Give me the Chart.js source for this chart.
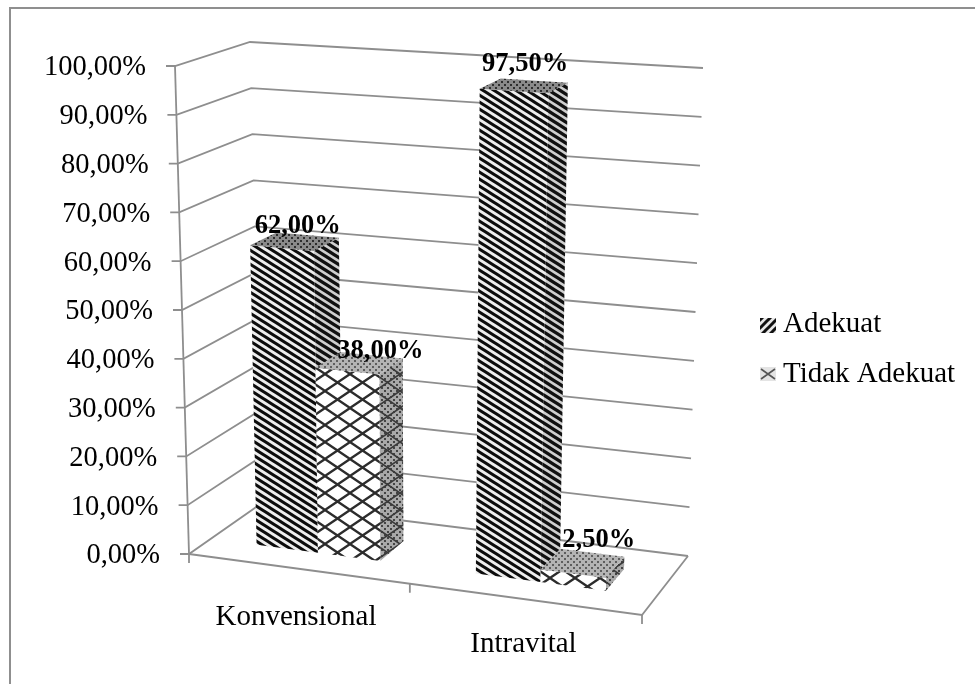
<!DOCTYPE html>
<html><head><meta charset="utf-8">
<style>html,body{margin:0;padding:0;background:#fff}canvas{display:block}</style>
<script src="https://cdn.jsdelivr.net/npm/chart.js@4"></script>
</head><body><canvas id="c" width="975" height="684"></canvas>
<script>
const categories = ['Konvensional', 'Intravital'];
const adekuat = [62.0, 97.5];
const tidakAdekuat = [38.0, 2.5];
const valueLabelsAdekuat = ['62,00%', '97,50%'];
const valueLabelsTidak = ['38,00%', '2,50%'];
const yTickLabels = ['0,00%','10,00%','20,00%','30,00%','40,00%','50,00%','60,00%','70,00%','80,00%','90,00%','100,00%'];
const seriesNames = ['Adekuat', 'Tidak Adekuat'];

const FONT = '"Liberation Serif","Times New Roman",serif';
// 3D box corners of the plot on screen: [u,d,v] -> pixel
const C = {
  a0:[189,554], b0:[642,615], c0:[262,503], d0:[688,556],
  a1:[175,66],  b1:[658,97], c1:[250,42],  d1:[703,68]
};
function P(u,d,v){
  const w=u-0.05*u*(1-u), r=[];
  for(const k of [0,1]){
    const l0=(1-w)*(1-d), l1=w*(1-d), l2=(1-w)*d, l3=w*d;
    r[k]=(1-v)*(l0*C.a0[k]+l1*C.b0[k]+l2*C.c0[k]+l3*C.d0[k])+v*(l0*C.a1[k]+l1*C.b1[k]+l2*C.c1[k]+l3*C.d1[k]);
  }
  return r;
}
function tile(w,h,fn){const c=document.createElement('canvas');c.width=w;c.height=h;const x=c.getContext('2d');fn(x,w,h);return x.createPattern(c,'repeat');}
function stripes(w,h,lw,bg,fg){return tile(w,h,(x)=>{x.fillStyle=bg;x.fillRect(0,0,w,h);x.strokeStyle=fg;x.lineWidth=lw;
  for(let k=-3;k<=3;k++){x.beginPath();x.moveTo(-w,-h+k*h);x.lineTo(2*w,2*h+k*h);x.stroke();}});}
function cross(w,h,lw,bg,fg){return tile(w,h,(x)=>{x.fillStyle=bg;x.fillRect(0,0,w,h);x.strokeStyle=fg;x.lineWidth=lw;
  x.beginPath();x.moveTo(0,0);x.lineTo(w,h);x.moveTo(w,0);x.lineTo(0,h);
  x.moveTo(-w/2,h/2);x.lineTo(0,h);x.moveTo(w/2,-h/2);x.lineTo(w,0);x.stroke();});}
function stipple(bg,fg){return tile(6,6,(x)=>{x.fillStyle=bg;x.fillRect(0,0,6,6);x.fillStyle=fg;x.fillRect(0,0,2,2);x.fillRect(3,3,2,2);});}
const pats={
  darkFront:stripes(11,7,3.1,'#eeeeee','#0c0c0c'),
  darkSide:stripes(11,7,3.2,'#cfcfcf','#101010'),
  darkTop:stipple('#8a8a8a','#2e2e2e'),
  crossFront:cross(25,17,2.3,'#ffffff','#2c2c2c'),
  crossSide:stipple('#a8a8a8','#444'),
  crossOver:cross(25,17,1.6,'rgba(0,0,0,0)','#3a3a3a'),
  crossTop:stipple('#b4b4b4','#5e5e5e')
};
function poly(ctx,pts,fill){ctx.beginPath();pts.forEach((p,i)=>i?ctx.lineTo(p[0],p[1]):ctx.moveTo(p[0],p[1]));ctx.closePath();ctx.fillStyle=fill;ctx.fill();}
const DEPTH0=0.30, DEPTH1=0.67;
const labelNudge=[[[3,-9],[1,-15]],[[21,-5],[16,-16]]];

const view3d={
  id:'view3d',
  beforeDraw(chart){
    const ctx=chart.ctx, y=chart.scales.y, x=chart.scales.x, ca=chart.chartArea;
    ctx.save();ctx.fillStyle='#fff';ctx.fillRect(0,0,975,684);
    ctx.strokeStyle='#8f8f8f';ctx.lineWidth=2;ctx.beginPath();ctx.moveTo(975,8);ctx.lineTo(10,8);ctx.lineTo(10,684);ctx.stroke();
    // walls and floor
    ctx.strokeStyle='#8e8e8e';ctx.lineWidth=1.8;
    y.ticks.forEach(t=>{
      const v=t.value/100;
      const a=P(0,0,v),b=P(0,1,v),c=P(1,1,v);
      ctx.beginPath();ctx.moveTo(a[0]-9,a[1]);ctx.lineTo(a[0],a[1]);ctx.lineTo(b[0],b[1]);ctx.lineTo(c[0],c[1]);ctx.stroke();
    });
    const a=P(0,0,0),t=P(0,0,1),f=P(1,0,0),r=P(1,1,0);
    ctx.beginPath();ctx.moveTo(t[0],t[1]);ctx.lineTo(a[0],a[1]);ctx.stroke();
    ctx.beginPath();ctx.moveTo(a[0],a[1]);ctx.lineTo(f[0],f[1]);ctx.lineTo(r[0],r[1]);ctx.stroke();
    [0,0.5,1].forEach(u=>{const p=P(u,0,0);ctx.beginPath();ctx.moveTo(p[0],p[1]);ctx.lineTo(p[0],p[1]+9);ctx.stroke();});
    ctx.restore();
    // follow the slanted axis with the library's own tick labels
    y.getLabelItems(ca).forEach((it,i)=>{
      const v=y.ticks[i].value/100,p=P(0,0,v);
      it.options.translation=[p[0]-29,p[1]+2];
    });
    x.getLabelItems(ca).forEach((it,i)=>{
      const u=(x.getPixelForTick(i)-ca.left)/ca.width,p=P(u,0,0);
      it.textOffset=0;it.options.textBaseline='alphabetic';it.options.textAlign='center';
      it.options.translation=[p[0]+(i?-1:-2),p[1]+(i?53:56)];
    });
  },
  afterLayout(chart){
    const l=chart.legend;
    l.left=740.5;l.top=289;l.right=l.left+l.width;l.bottom=l.top+l.height;
  },
  beforeDatasetsDraw(chart){
    const ctx=chart.ctx,ca=chart.chartArea;
    ctx.save();
    const dark=chart.getDatasetMeta(0).data,light=chart.getDatasetMeta(1).data;
    const labels=[];
    categories.forEach((_,j)=>{
      [[dark[j],'dark',valueLabelsAdekuat[j],labelNudge[0][j]],[light[j],'cross',valueLabelsTidak[j],labelNudge[1][j]]].forEach(([el,kind,txt,n])=>{
        const u0=(el.x-el.width/2-ca.left)/ca.width,u1=(el.x+el.width/2-ca.left)/ca.width;
        const v=(el.base-el.y)/ca.height;
        const f=[P(u0,DEPTH0,0),P(u1,DEPTH0,0),P(u1,DEPTH0,v),P(u0,DEPTH0,v)];
        const s=[P(u1,DEPTH0,0),P(u1,DEPTH1,0),P(u1,DEPTH1,v),P(u1,DEPTH0,v)];
        const t=[P(u0,DEPTH0,v),P(u1,DEPTH0,v),P(u1,DEPTH1,v),P(u0,DEPTH1,v)];
        poly(ctx,s,pats[kind+'Side']);
        if(kind==='cross')poly(ctx,s,pats.crossOver);
        poly(ctx,f,pats[kind+'Front']);
        poly(ctx,t,pats[kind+'Top']);
        const c=P((u0+u1)/2,(DEPTH0+DEPTH1)/2,v);
        labels.push([txt,c[0]+n[0],c[1]+n[1]]);
      });
    });
    ctx.fillStyle='#000';ctx.font='bold 26.5px '+FONT;ctx.textAlign='center';ctx.textBaseline='alphabetic';
    labels.forEach(l=>ctx.fillText(l[0],l[1],l[2]));
    ctx.restore();
    return false;
  },
  afterDraw(chart){
    const ctx=chart.ctx;ctx.save();
    ctx.fillStyle=stripesLegend;ctx.fillRect(760,318,16,15);
    const x0=760,y0=367,w=16,h=14;
    ctx.fillStyle='#e4e4e4';ctx.fillRect(x0,y0,w,h);
    ctx.strokeStyle='#555';ctx.lineWidth=1.6;ctx.beginPath();
    ctx.moveTo(x0+1,y0+2);ctx.lineTo(x0+w-1,y0+h-2);ctx.moveTo(x0+w-1,y0+2);ctx.lineTo(x0+1,y0+h-2);ctx.stroke();
    ctx.restore();
  }
};
const stripesLegend=tile(8,8,(x)=>{x.fillStyle='#e8e8e8';x.fillRect(0,0,8,8);x.strokeStyle='#111';x.lineWidth=3;
  for(let k=-1;k<=1;k++){x.beginPath();x.moveTo(-8+k*8,16);x.lineTo(16+k*8,-8);x.stroke();}});

new Chart(document.getElementById('c'),{
  type:'bar',
  data:{labels:categories,datasets:[
    {label:seriesNames[0],data:adekuat,backgroundColor:'#222222'},
    {label:seriesNames[1],data:tidakAdekuat,backgroundColor:'#cccccc'}
  ]},
  plugins:[view3d],
  options:{
    responsive:false,animation:false,
    categoryPercentage:0.57,barPercentage:1,
    layout:{padding:{left:9,top:66,right:333,bottom:10}},
    plugins:{
      title:{display:false},tooltip:{enabled:false},
      legend:{position:'chartArea',align:'start',labels:{
        font:{family:FONT,size:29},color:'#000',boxWidth:7,boxHeight:15,padding:21,
        generateLabels(chart){return chart.data.datasets.map((d,i)=>({text:d.label,fillStyle:'rgba(0,0,0,0)',strokeStyle:'rgba(0,0,0,0)',lineWidth:0,datasetIndex:i}));}
      }}
    },
    scales:{
      x:{grid:{display:false},border:{display:false},
        ticks:{font:{family:FONT,size:29},color:'#000',autoSkip:false,maxRotation:0,minRotation:0},
        afterFit(s){s.height=120;}},
      y:{min:0,max:100,grid:{display:false},border:{display:false},
        ticks:{stepSize:10,font:{family:FONT,size:28.5},color:'#000',callback:(v)=>yTickLabels[Math.round(v/10)]},
        afterFit(s){s.width=180;}}
    }
  }
});
</script></body></html>
